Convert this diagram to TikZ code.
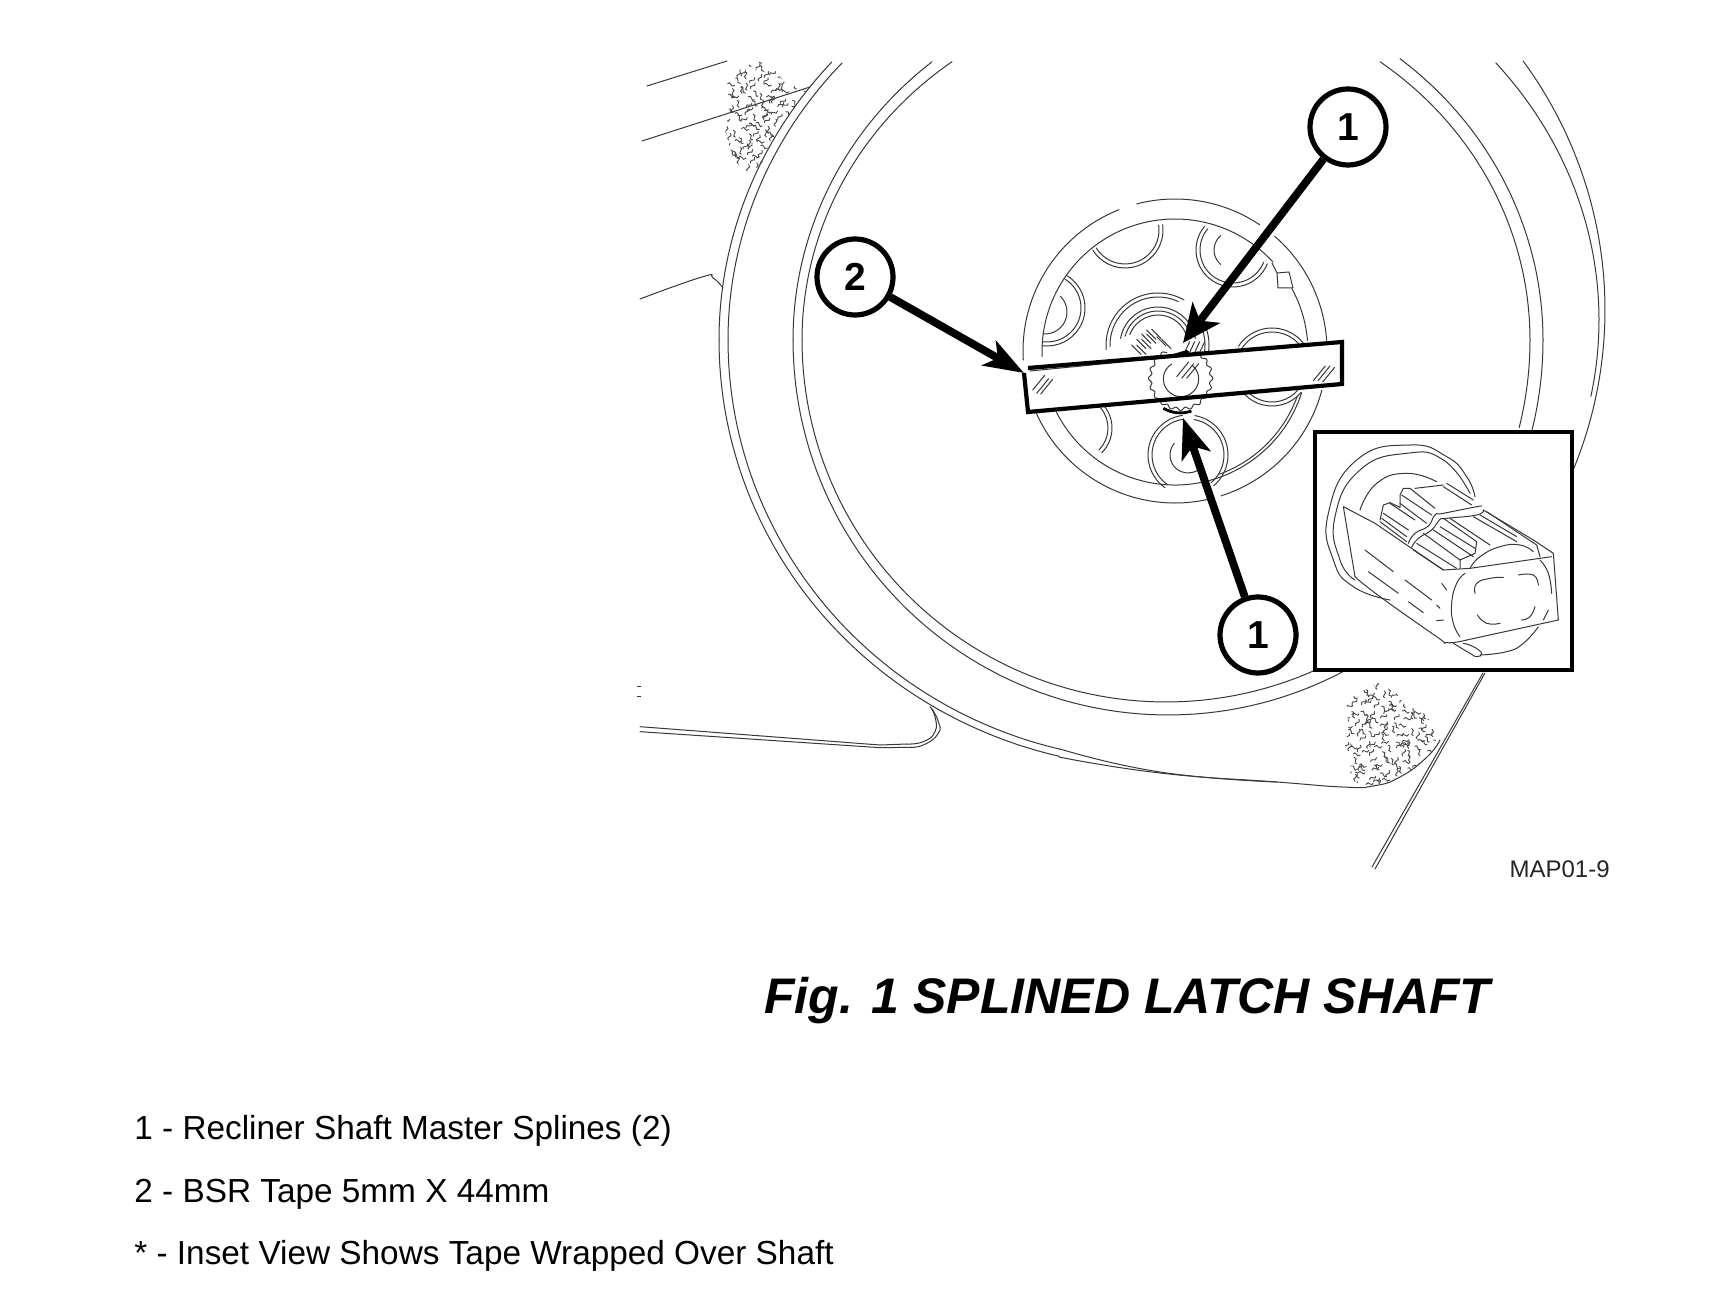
\documentclass[tikz,border=0pt]{standalone}
\usepackage{fontspec}
\setmainfont{Liberation Sans}
\usetikzlibrary{arrows.meta}
\tikzset{
  thin line/.style={draw=black!78,line width=0.5pt,line cap=round,line join=round},
  speck/.style={draw=black!72,line width=0.45pt,line cap=round},
  callout/.style={circle,draw=black,line width=2.6pt,fill=white,minimum size=38pt,inner sep=0pt,font=\fontsize{19.5}{20}\selectfont\bfseries},
  lead/.style={line width=3.9pt,draw=black},
  zoomview/.style={x=0.16667pt,y=-0.16667pt},
}
\newcommand{\crv}[1]{\draw[thin line] plot[smooth,tension=0.85] coordinates {#1};}
\newcommand{\harc}[5]{\draw[thin line] ({#1+(#3)*cos(#4)},{#2+(#3)*sin(#4)}) arc[start angle=#4,end angle=#5,radius=#3];}
\newcommand{\ovalarc}[6]{\draw[thin line] plot[domain=#5:#6,samples=70] ({#1+(#3)*cos(\x)},{#2+(#4)*sin(\x)});}
\newcommand{\sqfield}[5]{% xmin xmax ymin ymax seed
  \pgfmathsetseed{#5}
  \pgfmathtruncatemacro\nx{(#2-#1)/22}
  \pgfmathtruncatemacro\ny{(#4-#3)/22}
  \foreach \i in {0,...,\nx}{\foreach \j in {0,...,\ny}{
    \pgfmathsetmacro\cx{#1+22*\i+16*(rnd-0.5)}
    \pgfmathsetmacro\cy{#3+22*\j+16*(rnd-0.5)}
    \pgfmathsetmacro\aa{360*rnd}
    \pgfmathsetmacro\ab{\aa+150}
    \pgfmathsetmacro\ac{\aa+150+180}
    \pgfmathsetmacro\ad{\aa+180}
    \draw[speck] (\cx,\cy) arc[start angle=\aa,end angle=\ab,radius=5.5] arc[start angle=\ac,end angle=\ad,radius=5.5];
  }}
}
\begin{document}
\begin{tikzpicture}[x=0.5pt,y=-0.5pt]
\useasboundingbox (0,0) rectangle (1729,1315);
\fill[white] (0,0) rectangle (1729,1315);

% outer pair: left sweep and tail
\ovalarc{1162}{340}{443}{417}{180}{221.8}
\ovalarc{1162}{340}{443}{428}{103.4}{180}
\crv{(1059,757)(1160,773)(1277,782)(1343,787)(1373,786)(1400,777)(1427,757)(1440,740)}
\ovalarc{1162}{340}{434}{410}{180}{222.5}
\ovalarc{1162}{340}{434}{421}{103.6}{180}
\crv{(1060,749)(1160,772)(1277,782)}
% inner pair: one wheel
\ovalarc{1168}{340}{375}{358}{180}{231}
\ovalarc{1168}{340}{375}{375}{62}{180}
\ovalarc{1168}{340}{375}{358}{308.2}{360}
\ovalarc{1168}{340}{375}{375}{0}{14.5}
\ovalarc{1166}{340}{364}{344}{180}{234}
\ovalarc{1166}{340}{364}{362}{66}{180}
\ovalarc{1166}{340}{364}{344}{306}{360}
\ovalarc{1166}{340}{364}{362}{0}{14}
% far right pair
\ovalarc{1158}{320}{441}{400}{-40}{11}
\ovalarc{1162}{310}{443}{430}{-35.4}{25}
% top-left lines
\draw[thin line] (647,86) -- (727,61);
\draw[thin line] (642,141) -- (810,87);
\crv{(640,299)(702,277)(713,278)(723,288)}
% straight pair lower right
\draw[thin line] (1372,867) -- (1483,673);
\draw[thin line] (1375,869) -- (1485,673);

% lower-left seat line
\begin{scope}[shift={(630,330)},zoomview]
\draw[thin line] (30,1190) -- (750,1245) -- (830,1242);
\draw[thin line] (30,1205) -- (750,1253) -- (830,1252);
\crv{(830,1242)(880,1235)(915,1205)(915,1160)(900,1130)}
\crv{(830,1252)(880,1245)(925,1210)(925,1175)(905,1135)}
\draw[thin line] (22,1070) -- (32,1070);
\draw[thin line] (22,1098) -- (32,1098);
\end{scope}

% speckled areas
\begin{scope}[shift={(630,50)},zoomview]
\clip (290,100)--(340,50)--(390,35)--(430,50)--(465,100)--(530,120)--(460,220)--(390,350)--(345,365)--(310,330)--(285,240)--(300,170)--cycle;
\sqfield{285}{530}{35}{365}{17}
\end{scope}
\begin{scope}[shift={(1250,660)},zoomview]
\clip (290,130)--(320,100)--(385,70)--(435,95)--(460,130)--(520,160)--(565,210)--(550,270)--(500,320)--(420,365)--(350,378)--(310,365)--(295,320)--(285,260)--(295,200)--cycle;
\sqfield{285}{565}{70}{378}{42}
\end{scope}

% hub: outer ring
\harc{1175}{351}{152}{-104.6}{-56.2}
\harc{1175}{351}{152}{-49}{-4}
\harc{1175}{351}{152}{15}{72.4}
\harc{1175}{351}{152}{77.9}{155.8}
\harc{1175}{351}{152}{176.6}{248.4}
% hub: inner disc
\harc{1175}{352}{133}{178}{317.5}
\draw[thin line] (1272,263) -- (1277,273) -- (1289,272) -- (1293,288) -- (1278,288) -- (1277,273);
\harc{1175}{352}{133}{-28.5}{-5}
\harc{1175}{352}{133}{17.8}{153}
\harc{1175}{352}{130}{20}{70}
% holes
\harc{1125}{230}{38}{-8}{148}
\harc{1125}{230}{34}{-8}{148}
\harc{1233}{250}{37}{220}{22}
\harc{1233}{250}{33}{220}{22}
\harc{1233}{250}{19}{230}{130}
\harc{1047}{308}{38}{-58}{97}
\harc{1047}{308}{34}{-58}{97}
\harc{1045}{312}{22}{-45}{95}
\harc{1272}{368}{40}{-147}{-38}
\harc{1272}{368}{36}{-147}{-38}
\harc{1272}{368}{38}{135}{40}
\harc{1272}{368}{34}{135}{40}
\harc{1077}{428}{35}{-40}{45}
\harc{1077}{428}{31}{-40}{45}
\harc{1188}{455}{40}{262}{125}
\harc{1188}{455}{36}{262}{125}
\harc{1188}{455}{40}{-80}{50}
\harc{1188}{455}{36}{-80}{50}
\harc{1188}{455}{18}{220}{60}
% central shaft arcs above tape
\harc{1158}{345}{52}{175}{300}
\harc{1158}{345}{48}{178}{295}
\harc{1158}{345}{38}{190}{350}
\harc{1158}{345}{34}{195}{345}
\harc{1158}{345}{30}{200}{340}
\harc{1158}{345}{51}{-20}{8}
\harc{1158}{345}{47}{-25}{8}
\begin{scope}[shift={(950,180)},zoomview]
\foreach \a/\b in {590/450,605/448,575/462,590/462,560/478,575/478,545/495,560/495,620/470,635/478}{
  \draw[thin line] (\a,\b) -- ++(28,28);
}
\foreach \a in {705,720,735,750}{ \draw[thin line] (\a,515) -- ++(14,-30); }
\end{scope}

% tape
\fill[white] (1028,368) -- (1342,342) -- (1342,384) -- (1028,412) -- (1024,373) -- cycle;
\begin{scope}[shift={(950,180)},zoomview]
\draw[thin line] (240,573) -- (680,530);
\draw[thin line] plot[smooth,domain=-62:242,samples=181] ({692+(92+4.5*cos(20*\x))*cos(\x)},{595+(92+4.5*cos(20*\x))*sin(\x)});
\draw[thin line] (665,552) arc[start angle=238,end angle=-50,radius=53];
\foreach \a/\b in {248/630,260/640,272/642,1090/602,1104/602,1118/606,680/590,695/595,710/595}{
  \draw[thin line] (\a,\b) -- ++(36,-44);
}
\draw[line width=1.4pt] (640,685) arc[start angle=120,end angle=71,radius=102];
\fill (670,522) -- (710,510) -- (720,517) -- (680,527) -- cycle;
\end{scope}
\draw[line width=2.1pt,miter limit=10] (1028,368) -- (1342,342) -- (1342,384) -- (1028,412) -- (1024,373);

% callouts and connectors
\node[callout] (c1a) at (1348,127) {1};
\node[callout] (c1b) at (1258,635) {1};
\node[callout] (c2) at (855,277) {2};
\coordinate (t1a) at (1183,343);
\coordinate (t1b) at (1183,418);
\coordinate (t2) at (1024,373);
\draw[lead,-{Stealth[length=19pt,width=17pt,inset=5pt]}] (c1a) -- (t1a);
\draw[lead,-{Stealth[length=20pt,width=15pt,inset=5pt]}] (c1b) -- (t1b);
\draw[lead,-{Stealth[length=20pt,width=14pt,inset=5pt]}] (c2) -- (t2);

% inset
\draw[line width=2pt,fill=white] (1315,432) rectangle (1572,670);
\begin{scope}[shift={(1300,420)},zoomview]
\crv{(525,230)(500,170)(440,110)(330,75)(170,120)(85,280)(100,420)(160,500)(270,540)}
\crv{(510,220)(430,120)(320,100)(180,150)(105,290)(120,420)(165,480)}
\crv{(180,270)(230,190)(320,160)(410,185)}
% sleeve
\draw[thin line] (165,470) -- (130,260) -- (225,310) -- (430,450) -- (510,445) -- (755,410);
\crv{(165,470)(240,530)(410,650)(440,668)(500,660)}
\draw[thin line] (500,660) -- (775,600) -- (760,400) -- (700,360);
\draw[thin line] (550,270) -- (700,360);
\draw[thin line] (560,275) -- (710,375) -- (720,410);
% band
\crv{(325,370)(345,340)(385,318)(405,285)(430,280)(520,262)(545,258)}
\crv{(335,382)(355,355)(395,330)(418,300)(440,295)(530,285)(550,270)}
% ribs
\draw[thin line] (240,300) -- (250,255) -- (270,248) -- (300,262) -- (300,225) -- (310,205) -- (330,205);
\draw[thin line] (270,250)--(345,300);
\draw[thin line] (250,280)--(325,330);
\draw[thin line] (245,295)--(320,350);
\draw[thin line] (240,305)--(320,365);
\draw[thin line] (330,205)--(405,265);
\draw[thin line] (305,225)--(395,285);
\draw[thin line] (300,250)--(380,310);
\draw[thin line] (345,205)--(430,195);
\draw[thin line] (440,190)--(520,240);
\draw[thin line] (430,200)--(515,255);
\draw[thin line] (520,290)--(650,365);
\draw[thin line] (540,285)--(650,350);
\draw[thin line] (450,295)--(570,375);
\draw[thin line] (430,295)--(530,365);
\draw[thin line] (420,320)--(525,385);
\draw[thin line] (400,330)--(520,410);
\draw[thin line] (370,340)--(480,420);
\draw[thin line] (350,370)--(470,445);
\draw[thin line] (340,390)--(430,450);
\draw[thin line] (530,365) -- (525,400) -- (480,420) -- (480,445);
\crv{(510,445)(540,410)(600,380)(660,375)(700,395)}
% tape marks
\draw[thin line] (195,390)--(280,455);
\draw[thin line] (205,455)--(295,520);
\draw[thin line] (315,480)--(395,540);
\draw[thin line] (325,545)--(370,578);
\draw[thin line] (425,490)--(440,510);
\draw[thin line] (410,555)--(420,565);
\draw[thin line] (410,602)--(430,600);
\crv{(495,460)(470,490)(455,550)(460,610)(480,650)}
\crv{(720,420)(745,460)(755,520)}
\crv{(745,570)(730,600)}
\crv{(525,520)(530,490)(570,475)(610,472)}
\crv{(655,465)(700,465)(715,495)}
\crv{(705,560)(690,590)(665,600)}
\crv{(600,610)(560,610)(532,585)}
\crv{(715,620)(670,670)(620,695)(540,705)}
\crv{(460,670)(510,700)(530,710)(545,700)(520,680)(490,670)}
\end{scope}

% texts
\node[anchor=base east,inner sep=0pt,font=\fontsize{12}{13}\selectfont,text=black!85] (code) at (1610,877) {MAP01-9};
\node[anchor=base west,inner sep=0pt,font=\fontsize{25}{30}\selectfont\bfseries\itshape] (title) at (764,1013) {Fig. 1 SPLINED LATCH SHAFT};
\node[anchor=base west,inner sep=0pt,font=\fontsize{16.67}{18}\selectfont] (l1) at (134,1139) {1 - Recliner Shaft Master Splines (2)};
\node[anchor=base west,inner sep=0pt,font=\fontsize{16.67}{18}\selectfont] (l2) at (134,1202) {2 - BSR Tape 5mm X 44mm};
\node[anchor=base west,inner sep=0pt,font=\fontsize{16.67}{18}\selectfont] (l3) at (134,1264) {* - Inset View Shows Tape Wrapped Over Shaft};
\end{tikzpicture}
\end{document}
